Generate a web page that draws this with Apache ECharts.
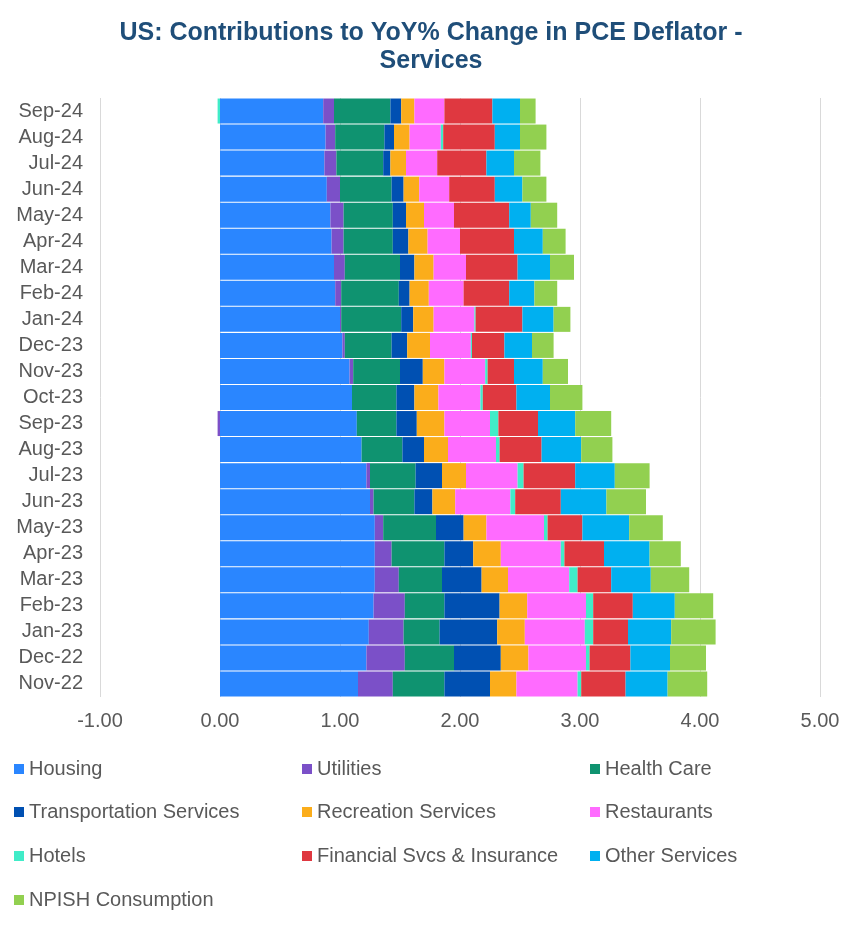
<!DOCTYPE html>
<html>
<head>
<meta charset="utf-8">
<script src="https://cdn.jsdelivr.net/npm/echarts@6/dist/echarts.min.js"></script>
<style>html,body{margin:0;padding:0;background:#fff}#c{width:862px;height:934px}</style>
</head>
<body>
<div id="c"></div>
<script>
const categories = ['Nov-22','Dec-22','Jan-23','Feb-23','Mar-23','Apr-23','May-23','Jun-23','Jul-23','Aug-23','Sep-23','Oct-23','Nov-23','Dec-23','Jan-24','Feb-24','Mar-24','Apr-24','May-24','Jun-24','Jul-24','Aug-24','Sep-24'];
const housing      = [1.15,1.22,1.24,1.28,1.29,1.29,1.29,1.25,1.22,1.18,1.14,1.10,1.08,1.02,1.00,0.96,0.95,0.93,0.92,0.89,0.87,0.88,0.86];
const utilities    = [0.29,0.32,0.29,0.26,0.20,0.14,0.07,0.03,0.03,0.00,-0.02,0.00,0.03,0.02,0.01,0.05,0.09,0.10,0.11,0.11,0.10,0.08,0.09];
const healthCare   = [0.43,0.41,0.30,0.33,0.36,0.44,0.44,0.34,0.38,0.34,0.33,0.37,0.39,0.39,0.50,0.48,0.46,0.41,0.41,0.43,0.39,0.41,0.47];
const transport    = [0.38,0.39,0.48,0.46,0.33,0.24,0.23,0.15,0.22,0.18,0.17,0.15,0.19,0.13,0.10,0.09,0.12,0.13,0.11,0.10,0.06,0.08,0.09];
const recreation   = [0.22,0.23,0.23,0.23,0.22,0.23,0.19,0.19,0.20,0.20,0.23,0.20,0.18,0.19,0.17,0.16,0.16,0.16,0.15,0.13,0.13,0.13,0.11];
const restaurants  = [0.51,0.48,0.50,0.49,0.51,0.50,0.48,0.46,0.43,0.40,0.38,0.35,0.34,0.34,0.34,0.29,0.27,0.27,0.25,0.25,0.26,0.26,0.25];
const hotels       = [0.03,0.03,0.07,0.06,0.07,0.03,0.03,0.04,0.05,0.03,0.07,0.02,0.02,0.01,0.01,0.00,0.00,0.00,0.00,0.00,0.00,0.02,-0.02];
const financial    = [0.37,0.34,0.29,0.33,0.28,0.33,0.29,0.38,0.43,0.35,0.33,0.28,0.22,0.27,0.39,0.38,0.43,0.45,0.46,0.38,0.41,0.43,0.40];
const otherServ    = [0.35,0.33,0.36,0.35,0.33,0.38,0.39,0.38,0.33,0.33,0.31,0.28,0.24,0.23,0.26,0.21,0.27,0.24,0.18,0.23,0.23,0.21,0.23];
const npish        = [0.33,0.30,0.37,0.32,0.32,0.26,0.28,0.33,0.29,0.26,0.30,0.27,0.21,0.18,0.14,0.19,0.20,0.19,0.22,0.20,0.22,0.22,0.13];
const xTicks = [-1,0,1,2,3,4,5];

const seriesDefs = [
  ['Housing', housing, '#2a86ff'],
  ['Utilities', utilities, '#7b50c8'],
  ['Health Care', healthCare, '#0f9370'],
  ['Transportation Services', transport, '#0050b2'],
  ['Recreation Services', recreation, '#fbad1b'],
  ['Restaurants', restaurants, '#ff6bff'],
  ['Hotels', hotels, '#40ecc8'],
  ['Financial Svcs & Insurance', financial, '#df3840'],
  ['Other Services', otherServ, '#00b0f0'],
  ['NPISH Consumption', npish, '#92d050']
];

const FONT = '"Liberation Sans", Arial, sans-serif';
const colX = [14, 302, 590];
const rowY = [769, 812, 856, 900];
const legends = seriesDefs.map((d, i) => ({
  data: [d[0]],
  left: colX[i % 3],
  top: rowY[Math.floor(i / 3)] - 10,
  icon: 'rect',
  itemWidth: 10,
  itemHeight: 10,
  selectedMode: false,
  padding: 0,
  textStyle: {fontFamily: FONT, fontSize: 20, color: '#595959', padding: [0,0,0,0]}
}));

const chart = echarts.init(document.getElementById('c'), null, {renderer: 'canvas'});
chart.setOption({
  animation: false,
  backgroundColor: '#fff',
  title: {
    text: 'US: Contributions to YoY% Change in PCE Deflator -\nServices',
    left: 'center',
    top: 14,
    textStyle: {fontFamily: FONT, fontSize: 25, fontWeight: 'bold', color: '#1f4e79', lineHeight: 28}
  },
  legend: legends,
  grid: {left: 100, right: 42, top: 98, bottom: 237, containLabel: false},
  xAxis: {
    type: 'value', min: xTicks[0], max: xTicks[xTicks.length - 1], interval: 1,
    axisLine: {show: false}, axisTick: {show: false},
    splitLine: {show: true, lineStyle: {color: '#d9d9d9', width: 1}},
    axisLabel: {fontFamily: FONT, fontSize: 20, color: '#595959', margin: 14, formatter: v => v.toFixed(2)}
  },
  yAxis: {
    type: 'category', data: categories,
    axisLine: {show: false}, axisTick: {show: false},
    axisLabel: {fontFamily: FONT, fontSize: 20, color: '#595959', margin: 17}
  },
  series: seriesDefs.map(d => ({
    name: d[0], type: 'bar', stack: 'total', data: d[1],
    barCategoryGap: '4%',
    itemStyle: {color: d[2]},
    emphasis: {disabled: true}
  }))
});
</script>
</body>
</html>
